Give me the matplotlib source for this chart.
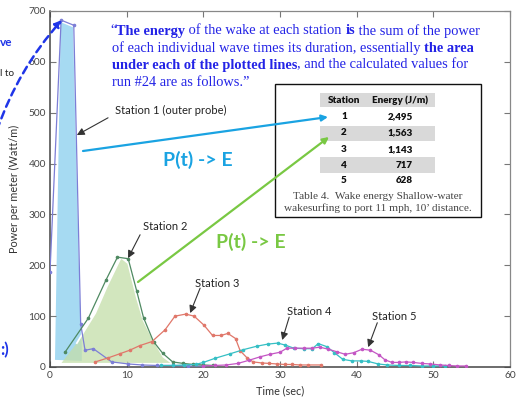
import matplotlib
matplotlib.use("Agg")
import matplotlib.pyplot as plt
from matplotlib.patches import Polygon, Rectangle, FancyArrowPatch

W, H = 519, 401

# ---- wave power time series, five stations ----
t1 = [0, 1.45, 3.1, 4.0, 4.57, 5.65, 8.05, 10.2, 12.0, 14.0, 16.0, 18.0, 20.0]
p1 = [187, 682, 672, 85, 33, 36, 10, 6, 4, 3, 3, 2, 2]

t2 = [2.0, 5.0, 7.3, 8.8, 10.2, 11.3, 12.2, 13.5, 14.7, 16.0, 17.4, 18.7, 20.0, 21.3]
p2 = [30, 96, 171, 216, 213, 150, 97, 50, 27, 10, 7, 5, 4, 3]

t3 = [5.9, 7.6, 9.1, 10.4, 11.7, 13.3, 15.0, 16.3, 17.7, 18.8, 20.1, 21.2, 22.3,
      23.2, 24.2, 24.8, 25.7, 26.5, 27.6, 28.6, 29.6, 30.6, 31.6, 32.6, 33.6, 35.4]
p3 = [10, 18, 26, 33, 42, 50, 73, 100, 104, 100, 82, 62, 62,
      66, 56, 32, 18, 10, 8, 7, 6, 5, 5, 4, 4, 4]

t4 = [14.5, 16.0, 17.5, 19.0, 20.0, 21.5, 23.5, 25.2, 27.0, 28.4, 29.7, 30.7, 31.8,
      33.1, 34.2, 35.0, 36.1, 37.1, 38.2, 39.4, 40.5, 41.5, 42.8, 44.0, 45.5, 47.0,
      48.5, 50.0, 51.5]
p4 = [3, 3, 4, 5, 9, 17, 26, 34, 41, 45, 47, 43, 37,
      36, 36, 46, 40, 28, 15, 12, 12, 11, 6, 4, 3, 3,
      2, 2, 2]

t5 = [20.0, 21.5, 23.0, 24.5, 25.9, 27.4, 28.7, 30.0, 30.9, 32.0, 33.1, 34.2, 35.2,
      36.3, 37.4, 38.5, 39.6, 40.7, 41.8, 42.9, 43.7, 44.6, 45.5, 46.4, 47.4, 48.5,
      49.6, 50.9, 52.0, 53.1, 54.2]
p5 = [2, 3, 4, 7, 13, 20, 25, 29, 37, 37, 37, 37, 39,
      35, 30, 25, 28, 35, 33, 24, 14, 9, 9, 10, 9, 7,
      6, 4, 3, 2, 2]

# shaded areas under station 1 and station 2
fill1_t = [0.65, 1.4, 3.0, 3.85, 4.15, 4.15]
fill1_p = [14, 678, 668, 150, 40, 12]
fill2_t = [1.5, 3.5, 4.3, 5.9, 7.4, 9.1, 9.3, 10.2, 11.3, 12.2, 13.5, 14.8, 15.9]
fill2_p = [8, 47, 67, 106, 158, 211, 215, 204, 138, 92, 53, 20, 8]

# energy table
stations = ["1", "2", "3", "4", "5"]
energy_j = [2495, 1563, 1143, 717, 628]

x_ticks = [0, 10, 20, 30, 40, 50, 60]
y_ticks = [0, 100, 200, 300, 400, 500, 600, 700]

sans = ["Lato", "DejaVu Sans"]
serif = ["Liberation Serif", "DejaVu Serif"]
plt.rcParams["font.family"] = sans

fig = plt.figure(figsize=(W / 100, H / 100), dpi=100)
ax = fig.add_axes([50 / W, 34 / H, 460 / W, 356 / H])
ax.set_xlim(0, 60)
ax.set_ylim(0, 700)
ax.set_xticks(x_ticks)
ax.set_yticks(y_ticks)
ax.tick_params(direction="in", length=4, width=0.8, color="#777", labelsize=7.3,
               labelcolor="#444", top=True, right=True, pad=3)
for s in ("left", "bottom"):
    ax.spines[s].set_color("#444")
    ax.spines[s].set_linewidth(1.1)
for s in ("top", "right"):
    ax.spines[s].set_color("#888")
    ax.spines[s].set_linewidth(0.9)
ax.set_xlabel("Time (sec)", fontsize=7.8, color="#333", labelpad=4)
ax.set_ylabel("Power per meter (Watt/m)", fontsize=7.8, color="#333", labelpad=6)

ax.add_patch(Polygon(list(zip(fill1_t, fill1_p)), closed=True, facecolor="#a6daf2",
                     edgecolor="none", zorder=1))
ax.add_patch(Polygon(list(zip(fill2_t, fill2_p)), closed=True, facecolor="#c4dea9",
                     edgecolor="none", alpha=0.75, zorder=2))
ax.plot(fill2_t[1:], fill2_p[1:], color="white", lw=1.3, zorder=2.5)

series = [(t1, p1, "#7c7ed6"), (t2, p2, "#4f8a62"), (t3, p3, "#e0776a"),
          (t4, p4, "#35bfc4"), (t5, p5, "#c456c4")]
for tx, px, c in series:
    ax.plot(tx, px, color=c, lw=0.9, marker="o", ms=1.6, mfc=c, mec=c, zorder=3)

# station labels with pointers
labels = [("Station 1 (outer probe)", 8.49, 505, (7.57, 490), (3.5, 456)),
          ("Station 2", 12.14, 277, (11.75, 260), (10.18, 214)),
          ("Station 3", 18.93, 165, (19.58, 155), (18.28, 106)),
          ("Station 4", 30.94, 110, (31.2, 98), (30.29, 53)),
          ("Station 5", 42.04, 100, (42.69, 87), (41.5, 39))]
for txt, lx, ly, tail, head in labels:
    ax.text(lx, ly, txt, fontsize=8, color="#222", va="center", ha="left", zorder=5)
    ax.annotate("", xy=head, xytext=tail,
                arrowprops=dict(arrowstyle="-|>", color="#333", lw=0.8,
                                mutation_scale=11, shrinkA=0, shrinkB=0), zorder=5)


def fx(x):
    return x / W


def fy(y):
    return 1 - y / H


renderer = fig.canvas.get_renderer()


def text_width(s, **kw):
    a = fig.text(0, 0, s + "|", **kw)
    b = fig.text(0, 0, "|", **kw)
    w = a.get_window_extent(renderer).width - b.get_window_extent(renderer).width
    a.remove()
    b.remove()
    return w


def rich_line(x, y, parts, **kw):
    for s, bold in parts:
        style = dict(kw, fontweight="bold" if bold else "normal")
        fig.text(fx(x), fy(y), s, va="center", ha="left", **style)
        x += text_width(s, **style)


qkw = dict(fontsize=10.4, color="#2323e6", family=serif)
rich_line(110, 31, [("\u201c", False), ("The energy", True),
                    (" of the wake at each station ", False), ("is", True),
                    (" the sum of the power", False)], **qkw)
rich_line(112, 48, [("of each individual wave times its duration, essentially ", False),
                    ("the area", True)], **qkw)
rich_line(112, 65, [("under each of the plotted lines", True),
                    (", and the calculated values for", False)], **qkw)
rich_line(112, 82, [("run #24 are as follows.\u201d", False)], **qkw)

# energy table box
fig.patches.append(Rectangle((fx(275), fy(217)), 206 / W, 133 / H, transform=fig.transFigure,
                             facecolor="white", edgecolor="#111", lw=1.0, zorder=6))
for y0, y1 in [(93, 107), (126, 141), (157, 173)]:
    fig.patches.append(Rectangle((fx(320), fy(y1)), 115 / W, (y1 - y0) / H,
                                 transform=fig.transFigure, facecolor="#d9d9d9",
                                 edgecolor="none", zorder=7))
tkw = dict(fontsize=7.1, fontweight="heavy", color="#111", va="center", zorder=8)
fig.text(fx(344), fy(100.5), "Station", ha="center", **tkw)
fig.text(fx(400), fy(100.5), "Energy (J/m)", ha="center", **tkw)
row_y = [116.7, 132.7, 149.3, 165, 180.7]
for s, e, ry in zip(stations, energy_j, row_y):
    fig.text(fx(344), fy(ry), s, ha="center", **tkw)
    fig.text(fx(413), fy(ry), f"{e:,}", ha="right", **tkw)
ckw = dict(fontsize=8.1, color="#444", family=serif, ha="center", va="center", zorder=8)
fig.text(fx(378), fy(197), "Table 4.  Wake energy Shallow-water", **ckw)
fig.text(fx(378), fy(208.5), "wakesurfing to port 11 mph, 10\u2019 distance.", **ckw)

# P(t) -> E pointers
for (x0, y0), (x1, y1), c in [((83, 151), (328, 117), "#1aa3e2"),
                              ((138, 282), (329, 137), "#79c843")]:
    fig.patches.append(FancyArrowPatch((fx(x0), fy(y0)), (fx(x1), fy(y1)),
                                       transform=fig.transFigure, arrowstyle="-|>",
                                       mutation_scale=9, lw=1.6, color=c, zorder=9,
                                       shrinkA=0, shrinkB=0))
fig.text(fx(198), fy(160), "P(t) -> E", fontsize=14, fontweight="bold", color="#1aa3e2",
         ha="center", va="center", zorder=9)
fig.text(fx(251), fy(242), "P(t) -> E", fontsize=14, fontweight="bold", color="#79c843",
         ha="center", va="center", zorder=9)

# partial slide elements on the left edge
fig.patches.append(FancyArrowPatch((fx(-3), fy(130)), (fx(62), fy(20)),
                                   transform=fig.transFigure, arrowstyle="-|>",
                                   connectionstyle="arc3,rad=-0.1", mutation_scale=10,
                                   lw=1.8, color="#1f35e8", linestyle=(0, (3, 2)),
                                   zorder=9, shrinkA=0, shrinkB=0))
fig.text(fx(0), fy(42), "ve", fontsize=8.5, fontweight="bold", color="#1f35e8",
         ha="left", va="center")
fig.text(fx(0), fy(73), "l to", fontsize=7.2, color="#222", ha="left", va="center")
fig.text(fx(0.5), fy(350), ":)", fontsize=12, fontweight="bold", color="#1f35e8",
         ha="left", va="center")

fig.savefig("out.png", dpi=100)
